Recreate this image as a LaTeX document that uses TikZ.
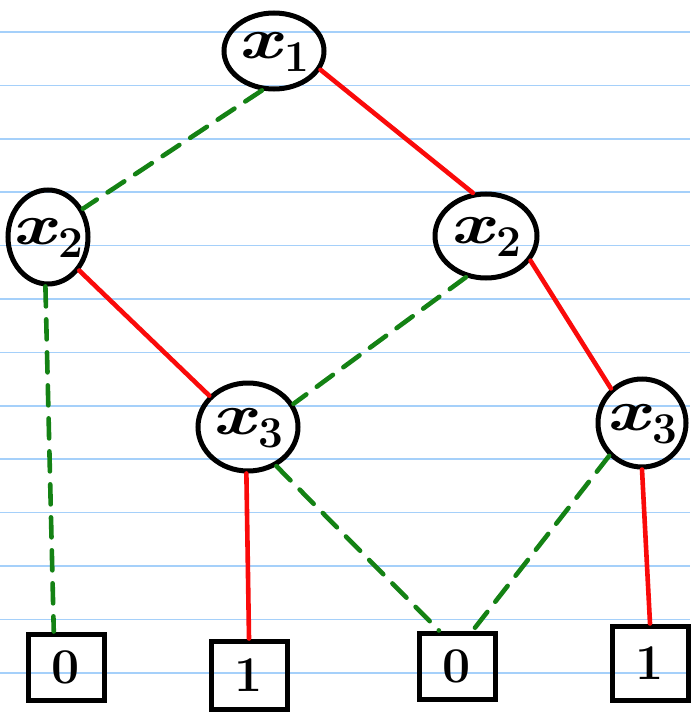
\documentclass[tikz,border=0pt]{standalone}
\usepackage{fontspec}
\usepackage{graphicx}
\usetikzlibrary{shapes.geometric}
\definecolor{ruleblue}{RGB}{165,208,250}
\definecolor{lowgreen}{RGB}{20,130,20}
\definecolor{highred}{RGB}{250,10,10}
% variable label: a wide italic x with a large lowered index,
% boxed with no size so the ellipse keeps its own dimensions
\newcommand{\var}[1]{\raisebox{-0.3ex}[0pt][0pt]{\makebox[0pt]{\scalebox{1.3}[1]{\textit{x}}\kern1pt\raisebox{-0.22em}{\fontsize{44}{44}\selectfont #1}}}}
\tikzset{
  ruled/.style={draw=ruleblue, line width=1.6pt},
  varnode/.style={ellipse, draw=black, line width=5pt, inner sep=0pt,
    font=\fontsize{58}{58}\selectfont\bfseries},
  leafbox/.style={rectangle, draw=black, line width=5pt, inner sep=0pt,
    minimum width=76pt, minimum height=66pt, font=\fontsize{50}{50}\selectfont\bfseries},
  lowedge/.style={draw=lowgreen, line width=4.6pt, line cap=round,
    dash pattern=on 20pt off 13pt},
  highedge/.style={draw=highred, line width=4.6pt, line cap=round},
}
\begin{document}
\begin{tikzpicture}[x=1pt, y=-1pt]
\useasboundingbox (0,0) rectangle (690,714);
\fill[white] (0,0) rectangle (690,714);
% lined paper
\foreach \k in {0,...,12}
  \draw[ruled] (0,{32+53.4*\k}) -- (690,{32+53.4*\k});

% decision nodes
\node[varnode, minimum width=100pt, minimum height=76pt] (x1)  at (274,51)  {\var{1}};
\node[varnode, minimum width=80pt, minimum height=94pt] (x2l) at (48,237)  {\var{2}};
\node[varnode, minimum width=102pt, minimum height=84pt] (x2r) at (486,236) {\var{2}};
\node[varnode, minimum width=100pt, minimum height=88pt] (x3m) at (248,427) {\var{3}};
\node[varnode, minimum width=88pt, minimum height=88pt] (x3r) at (642,423) {\var{3}};

% terminal nodes
\node[leafbox] (t0l) at (66,667)  {0};
\node[leafbox, minimum height=68pt] (t1m) at (249,675) {1};
\node[leafbox] (t0m) at (457,666) {0};
\node[leafbox, minimum height=74pt] (t1r) at (650,663) {1};

% low (0) edges
\draw[lowedge] (x1.253) -- (x2l.39);
\draw[lowedge] (x2l.267) -- (t0l.109);
\draw[lowedge] (x2r.244) -- (x3m.27);
\draw[lowedge] (x3m.306) -- (t0m.117);
\draw[lowedge] (x3r.225) -- (t0m.66);

% high (1) edges
\draw[highedge] (x1.338) -- (x2r.107);
\draw[highedge] (x2l.313) -- (x3m.141);
\draw[highedge] (x2r.331) -- (x3r.132);
\draw[highedge] (x3m.268) -- (t1m.north);
\draw[highedge] (x3r.270) -- (t1r.north);
\end{tikzpicture}
\end{document}
